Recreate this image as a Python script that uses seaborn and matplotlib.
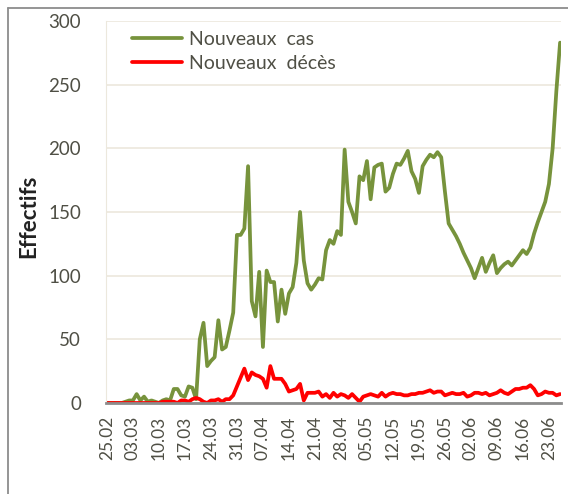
import pandas as pd
import seaborn as sns
import matplotlib.pyplot as plt
from matplotlib.lines import Line2D

# daily values, 25.02 -> 26.06
dates = pd.date_range("2020-02-25", "2020-06-26", freq="D")

new_cases = [0, 0, 0, 0, 0, 1, 2, 2, 7, 2,
             5, 1, 2, 1, 0, 2, 3, 2, 11, 11,
             6, 5, 13, 12, 3, 50, 63, 29, 33, 36,
             65, 42, 44, 57, 71, 132, 132, 137, 186, 80,
             68, 103, 44, 104, 95, 95, 64, 89, 70, 86,
             91, 110, 150, 112, 94, 89, 93, 98, 97, 120,
             128, 125, 135, 132, 199, 158, 150, 141, 178, 175,
             190, 160, 185, 187, 188, 166, 169, 180, 188, 187,
             192, 198, 182, 176, 165, 186, 191, 195, 193, 197,
             193, 166, 141, 136, 131, 125, 118, 112, 106, 98,
             106, 114, 103, 110, 116, 102, 106, 109, 111, 108,
             112, 116, 120, 117, 122, 133, 142, 150, 158, 172,
             200, 245, 283]

new_deaths = [0, 0, 0, 0, 0, 0, 0, 0, 0, 0,
              0, 0, 0, 0, 0, 1, 1, 1, 1, 0,
              2, 2, 1, 3, 4, 3, 1, 0, 2, 2,
              3, 1, 3, 3, 6, 13, 20, 27, 18, 24,
              22, 21, 19, 12, 29, 19, 19, 19, 15, 9,
              10, 11, 15, 2, 8, 8, 8, 9, 5, 7,
              4, 8, 5, 7, 6, 4, 7, 4, 1, 5,
              6, 7, 6, 5, 8, 5, 7, 8, 7, 7,
              6, 6, 7, 7, 8, 8, 9, 10, 8, 9,
              9, 6, 7, 8, 7, 7, 8, 5, 6, 8,
              8, 7, 8, 6, 7, 8, 10, 8, 7, 9,
              11, 11, 12, 12, 14, 11, 6, 7, 9, 8,
              8, 6, 7]

tick_labels = ["25.02", "03.03", "10.03", "17.03", "24.03", "31.03",
               "07.04", "14.04", "21.04", "28.04", "05.05", "12.05",
               "19.05", "26.05", "02.06", "09.06", "16.06", "23.06"]

series_names = ["Nouveaux  cas", "Nouveaux  décès"]
colors = ["#77933C", "#FF0000"]

n = len(dates)
df = pd.DataFrame({
    "Date": list(dates) * 2,
    "Effectifs": new_cases + new_deaths,
    "Série": [series_names[0]] * n + [series_names[1]] * n,
})

sns.set_style("white")
plt.rcParams["font.family"] = ["Lato", "DejaVu Sans"]
text_color = "#4f4f45"

fig = plt.figure(figsize=(5.68, 4.94), dpi=100)
ax = fig.add_axes([106 / 568, 91 / 494, 455 / 568, 382 / 494])
sns.lineplot(data=df, x="Date", y="Effectifs", hue="Série",
             palette=colors, linewidth=2.7, ax=ax)

ax.set_xlim(dates[0] - pd.Timedelta(hours=6), dates[-1] + pd.Timedelta(hours=6))
ax.set_ylim(0, 300)
ax.set_yticks(range(0, 301, 50))
ax.set_xticks(dates[::7])
ax.set_xticklabels(tick_labels, rotation=90, fontsize=12.5, color=text_color)
ax.tick_params(axis="y", labelsize=13.5, labelcolor=text_color, length=0, pad=18)
ax.tick_params(axis="x", length=0, pad=9)
ax.set_xlabel("")
ax.set_ylabel("Effectifs", fontsize=16, fontweight="bold", color="#222222")
ax.yaxis.set_label_coords(-0.147, 0.49)

ax.grid(axis="y", color="#ECE8DD", linewidth=1.2)
ax.grid(axis="x", visible=False)
ax.set_axisbelow(True)
for side in ["top", "right"]:
    ax.spines[side].set_visible(False)
ax.spines["left"].set_color("#ECE8DD")
ax.spines["bottom"].set_color("#8C8C8C")
ax.spines["bottom"].set_linewidth(2)

ax.legend(title=None, frameon=False, loc="upper left", fontsize=14,
          handlelength=2.6, handletextpad=0.35, labelspacing=0.35,
          borderaxespad=0.1, bbox_to_anchor=(0.035, 1.0), labelcolor=text_color)

# outer chart frame (left and top edges visible)
fig.add_artist(Line2D([8 / 568, 8 / 568], [0, 1 - 8 / 494], transform=fig.transFigure,
                      color="#8C8C8C", linewidth=1.3))
fig.add_artist(Line2D([8 / 568, 1], [1 - 8 / 494, 1 - 8 / 494], transform=fig.transFigure,
                      color="#8C8C8C", linewidth=1.3))

plt.savefig("out.png", dpi=100)
